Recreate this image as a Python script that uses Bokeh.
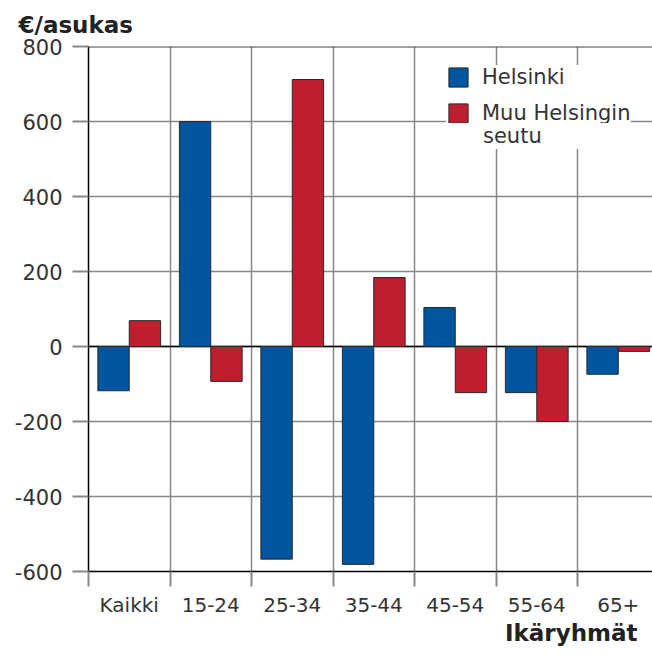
from bokeh.plotting import figure
from bokeh.models import FixedTicker, Range1d, Span, Legend, LegendItem, Title
from bokeh.embed import file_html
from bokeh.resources import INLINE

categories = ["Kaikki", "15-24", "25-34", "35-44", "45-54", "55-64", "65+"]
helsinki = [-118, 600, -567, -581, 104, -123, -74]
muu_seutu = [69, -93, 712, 184, -123, -200, -13]
y_ticks = [-600, -400, -200, 0, 200, 400, 600, 800]

BLUE = "#00559F"
RED = "#BE1E2D"
FONT = "DejaVu Sans"
BAR_W = 0.385

p = figure(width=652, height=655, output_backend="svg", toolbar_location=None,
           x_range=Range1d(0, 6.92), y_range=Range1d(-600, 800),
           min_border_left=88, min_border_right=0, min_border_top=46, min_border_bottom=84)
p.outline_line_color = None
p.background_fill_color = "white"

p.title.text = "€/asukas"
p.title.align = "left"
p.title.offset = -70
p.title.vertical_align = "bottom"
p.title.text_font = FONT
p.title.text_font_style = "bold"
p.title.text_font_size = "23px"
p.title.text_color = "#222222"
p.title.standoff = 18

idx = list(range(len(categories)))
xh = [i + 0.5 - BAR_W / 2 for i in idx]
xm = [i + 0.5 + BAR_W / 2 for i in idx]

r1 = p.vbar(x=xh, top=helsinki, bottom=0, width=BAR_W, fill_color=BLUE, line_color="#2a2a2a", line_width=1)
r2 = p.vbar(x=xm, top=muu_seutu, bottom=0, width=BAR_W, fill_color=RED, line_color="#2a2a2a", line_width=1)
r_blank = p.vbar(x=[], top=[], width=BAR_W, fill_alpha=0, line_alpha=0)

# x axis
xa = p.xaxis[0]
xa.ticker = FixedTicker(ticks=[i + 0.5 for i in idx], minor_ticks=list(range(len(categories) + 1)))
xa.major_label_overrides = {i + 0.5: c for i, c in zip(idx, categories)}
xa.major_tick_out = 0
xa.major_tick_in = 0
xa.minor_tick_out = 15
xa.minor_tick_in = 0
xa.minor_tick_line_color = "#888888"
xa.minor_tick_line_width = 2
xa.axis_line_color = "black"
xa.axis_line_width = 1.5
xa.major_label_standoff = 6
xa.major_label_text_font = FONT
xa.major_label_text_font_size = "20px"
xa.major_label_text_color = "#333333"

# y axis
ya = p.yaxis[0]
ya.ticker = FixedTicker(ticks=y_ticks)
ya.major_label_overrides = {t: str(t) for t in y_ticks}
ya.major_tick_out = 16
ya.major_tick_in = 0
ya.major_tick_line_color = "#888888"
ya.major_tick_line_width = 2
ya.minor_tick_line_color = None
ya.axis_line_color = "black"
ya.axis_line_width = 1.5
ya.major_label_standoff = 10
ya.major_label_text_font = FONT
ya.major_label_text_font_size = "21px"
ya.major_label_text_color = "#333333"

p.xgrid.ticker = FixedTicker(ticks=[1, 2, 3, 4, 5, 6])
p.xgrid.grid_line_color = "#888888"
p.xgrid.grid_line_width = 1.5
p.ygrid.ticker = FixedTicker(ticks=y_ticks)
p.ygrid.grid_line_color = "#888888"
p.ygrid.grid_line_width = 1.5

p.add_layout(Span(location=0, dimension="width", line_color="black", line_width=1.5, level="underlay"))
p.add_layout(Span(location=800, dimension="width", line_color="#444444", line_width=2, level="underlay"))

legend = Legend(items=[LegendItem(label="Helsinki", renderers=[r1]),
                       LegendItem(label="Muu Helsingin", renderers=[r2])],
                location=(358, 446), padding=12, margin=0, glyph_width=24, glyph_height=24,
                label_standoff=12, spacing=12, label_text_font=FONT, label_text_font_size="21px",
                label_text_color="#333333", border_line_color=None,
                background_fill_color="white", background_fill_alpha=1)
p.add_layout(legend)

# second line of the wrapped legend label, on a white strip below the rows
cover = Legend(items=[LegendItem(label="seutu", renderers=[r_blank])],
               location=(347, 422), padding=0, margin=0, glyph_width=35, glyph_height=26,
               label_standoff=13, spacing=0, label_width=170, label_text_font=FONT,
               label_text_font_size="21px", label_text_baseline="alphabetic",
               label_text_color="#333333", border_line_color=None,
               background_fill_color="white", background_fill_alpha=1)
p.add_layout(cover)

xt = Title(text="Ikäryhmät", align="right", offset=15, text_font=FONT, text_font_style="bold",
           text_font_size="23px", text_color="#222222", standoff=-3)
p.add_layout(xt, "below")

open("out.html", "w").write(file_html(p, INLINE))
